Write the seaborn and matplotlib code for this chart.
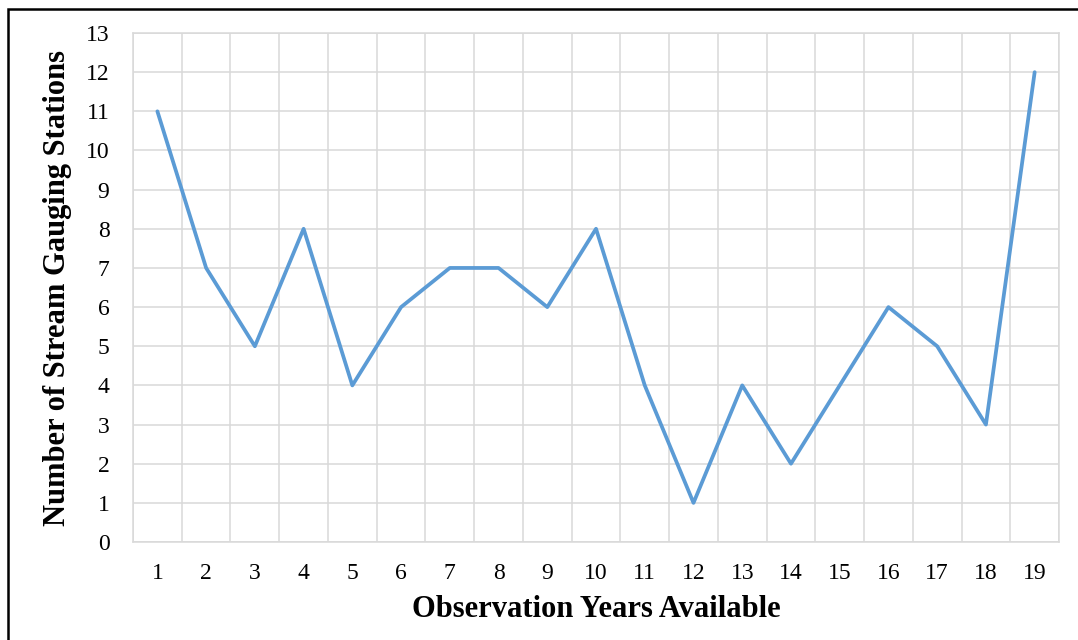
import matplotlib
matplotlib.use("Agg")
import matplotlib.pyplot as plt
from matplotlib.patches import Rectangle
from matplotlib.ticker import MultipleLocator
import seaborn as sns
import pandas as pd

# Number of gauging stations by years of available record
years = list(range(1, 20))
stations = [11, 7, 5, 8, 4, 6, 7, 7, 6, 8, 4, 1, 4, 2, 4, 6, 5, 3, 12]
y_ticks = list(range(0, 14))

df = pd.DataFrame({"years": years, "stations": stations})

sns.set_theme(style="white")
plt.rcParams["font.family"] = ["Liberation Serif", "DejaVu Serif"]
plt.rcParams["text.color"] = "#000000"
plt.rcParams["axes.labelcolor"] = "#000000"

fig = plt.figure(figsize=(10.78, 6.4), dpi=100)
ax = fig.add_axes([0.1234, 0.1531, 0.8590, 0.7953])

sns.lineplot(data=df, x="years", y="stations", ax=ax, color="#5B9BD5",
             linewidth=2.7, solid_capstyle="round", solid_joinstyle="round")

ax.set_xlim(0.5, 19.5)
ax.set_ylim(0, 13)
ax.set_xticks(years)
ax.set_yticks(y_ticks)
ax.xaxis.set_minor_locator(MultipleLocator(1, offset=0.5))
ax.grid(False)
ax.grid(True, which="minor", axis="x", color="#D9D9D9", linewidth=1.1)
ax.grid(True, which="major", axis="y", color="#D9D9D9", linewidth=1.1)
ax.set_axisbelow(True)

for side in ["left", "right", "top", "bottom"]:
    ax.spines[side].set_color("#D9D9D9")
    ax.spines[side].set_linewidth(1.1)

ax.tick_params(axis="both", which="both", length=0, labelsize=17, colors="#000000")
ax.tick_params(axis="y", pad=17)
ax.tick_params(axis="x", pad=15)

ax.set_xlabel("Observation Years Available", fontsize=22, fontweight="bold",
              labelpad=8, color="#000000")
ax.set_ylabel("Number of Stream Gauging Stations", fontsize=22, fontweight="bold",
              labelpad=10, color="#000000")

# outer frame around the chart
fig.patches.append(Rectangle((8 / 1078, -0.1), 1.2, 1 - 8.5 / 640 + 0.1,
                             transform=fig.transFigure, fill=False,
                             edgecolor="black", linewidth=1.8))

fig.savefig("out.png", dpi=100, facecolor="white")
